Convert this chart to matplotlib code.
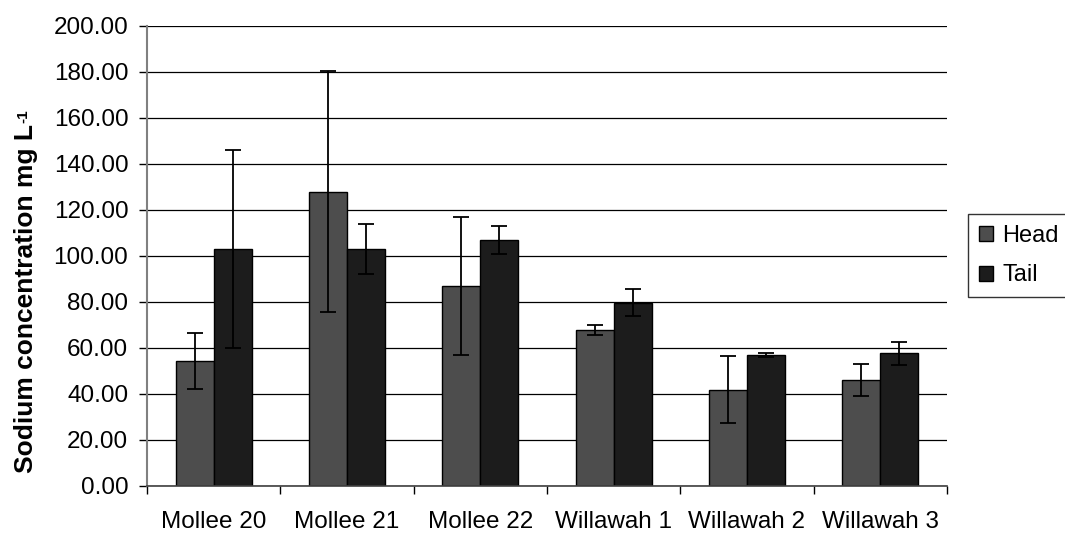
import matplotlib
matplotlib.use("Agg")
import matplotlib.pyplot as plt
from matplotlib.patches import Patch
import numpy as np

plt.rcParams['font.family'] = ['Liberation Sans', 'DejaVu Sans']

categories = ["Mollee 20", "Mollee 21", "Mollee 22", "Willawah 1", "Willawah 2", "Willawah 3"]
head = [54.5, 128.0, 87.0, 67.7, 41.9, 46.1]
head_err = [12.2, 52.3, 30.1, 2.1, 14.7, 7.1]
tail = [103.0, 103.0, 107.0, 79.6, 57.0, 57.8]
tail_err = [43.2, 10.9, 6.0, 5.9, 0.9, 5.0]
yticks = [0, 20, 40, 60, 80, 100, 120, 140, 160, 180, 200]

head_color = "#4d4d4d"
tail_color = "#1c1c1c"

W, H = 1065, 533
fig = plt.figure(figsize=(W/100, H/100), dpi=100)
ax = fig.add_axes([147/W, 47/H, 800/W, 460/H])

x = np.arange(len(categories))
w = 0.285
ax.set_axisbelow(True)
ax.yaxis.grid(True, color="#000000", linewidth=0.9)
ekw = dict(ecolor="black", elinewidth=1.3, capsize=5.5, capthick=1.3)
ax.bar(x - w/2, head, w, color=head_color, edgecolor="black", linewidth=1.0,
       yerr=head_err, error_kw=ekw, label="Head")
ax.bar(x + w/2, tail, w, color=tail_color, edgecolor="black", linewidth=1.0,
       yerr=tail_err, error_kw=ekw, label="Tail")

ax.set_xlim(-0.5, len(categories) - 0.5)
ax.set_ylim(0, 200)
ax.set_yticks(yticks)
ax.set_yticklabels([f"{v:.2f}" for v in yticks], fontsize=17.5)
ax.set_xticks(x)
ax.set_xticklabels(categories, fontsize=17.5)
ax.tick_params(axis='x', length=0, pad=18)
ax.set_xticks(np.arange(len(categories) + 1) - 0.5, minor=True)
ax.tick_params(axis='x', which='minor', length=6, width=1, color="black", direction='out')
ax.tick_params(axis='y', length=6, width=1, color="black", direction='out', pad=7.5)

for s in ["top", "right"]:
    ax.spines[s].set_visible(False)
ax.spines["left"].set_color("#808080")
ax.spines["left"].set_linewidth(1.5)
ax.spines["bottom"].set_color("#404040")
ax.spines["bottom"].set_linewidth(1.2)

# y-axis title with a small superscript
yl = fig.text(14/W, 1 - 473/H, "Sodium concentration mg L", rotation=90,
              ha="left", va="bottom", fontsize=19, fontweight="bold")
fig.canvas.draw()
bb = yl.get_window_extent()
fig.text(bb.x0 / W + 2/W, (bb.y1 + 1) / H, "-1", rotation=90, ha="left", va="bottom",
         fontsize=11, fontweight="bold")

handles = [Patch(facecolor=head_color, edgecolor="black", label="Head"),
           Patch(facecolor=tail_color, edgecolor="black", label="Tail")]
leg = fig.legend(handles=handles, loc="upper left", bbox_to_anchor=(968/W, 1 - 214/H),
                 fontsize=17, frameon=True, fancybox=False, edgecolor="black",
                 handlelength=0.6, handleheight=0.6, handletextpad=0.4,
                 borderpad=0.45, labelspacing=0.75, borderaxespad=0)
leg.get_frame().set_linewidth(1.0)

fig.savefig("out.png", dpi=100)
